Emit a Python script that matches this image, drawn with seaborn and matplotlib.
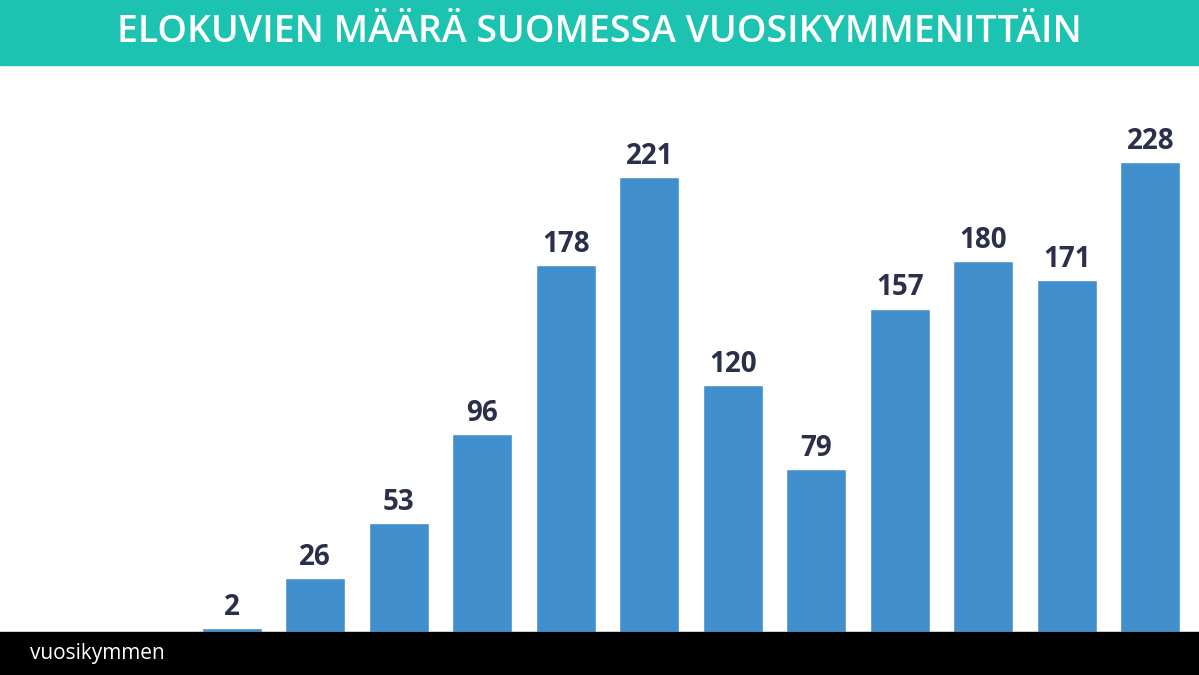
import matplotlib
matplotlib.use("Agg")
import matplotlib.pyplot as plt
import seaborn as sns
import pandas as pd
from matplotlib.patches import Rectangle

decades = ["1900","1910","1920","1930","1940","1950","1960","1970","1980","1990","2000","2010"]
counts = [2,26,53,96,178,221,120,79,157,180,171,228]
title = "ELOKUVIEN MÄÄRÄ SUOMESSA VUOSIKYMMENITTÄIN"
xlabel = "vuosikymmen"

sns.set_style("white")
plt.rcParams['font.family'] = ['Open Sans', 'DejaVu Sans']
W, H = 1199, 675
fig = plt.figure(figsize=(W/100, H/100), dpi=100)
fig.patch.set_facecolor("white")
fig.patches.append(Rectangle((0, 1-65/H), 1, 65/H, transform=fig.transFigure, color="#1cc3b1", zorder=0))
fig.patches.append(Rectangle((0, 0), 1, 43/H, transform=fig.transFigure, color="black", zorder=0))
fig.text(0.5, 1-32/H, title, color="white", fontsize=27, fontweight="semibold", ha="center", va="center")
fig.text(97/W, 21/H, xlabel, color="white", fontsize=15, ha="center", va="center")

ax = fig.add_axes([190/W, 43/H, 1002/W, 567/H])
df = pd.DataFrame({"decade": decades, "count": counts})
sns.barplot(data=df, x="decade", y="count", color="#428fcd", saturation=1, width=0.72, ax=ax)
ax.set_xlim(-0.5, 11.5)
ax.set_ylim(0, 567/2.06)
for i, v in enumerate(counts):
    ax.text(i, v + 3, str(v), ha="center", va="bottom", fontsize=20, fontweight="bold", color="#2a2f4a")
ax.set_xlabel(""); ax.set_ylabel("")
ax.set_yticks([])
ax.tick_params(axis="x", colors="white", labelsize=15, length=0, pad=8)
for s in ax.spines.values():
    s.set_visible(False)
ax.patch.set_alpha(0)
fig.savefig("out.png", dpi=100)
